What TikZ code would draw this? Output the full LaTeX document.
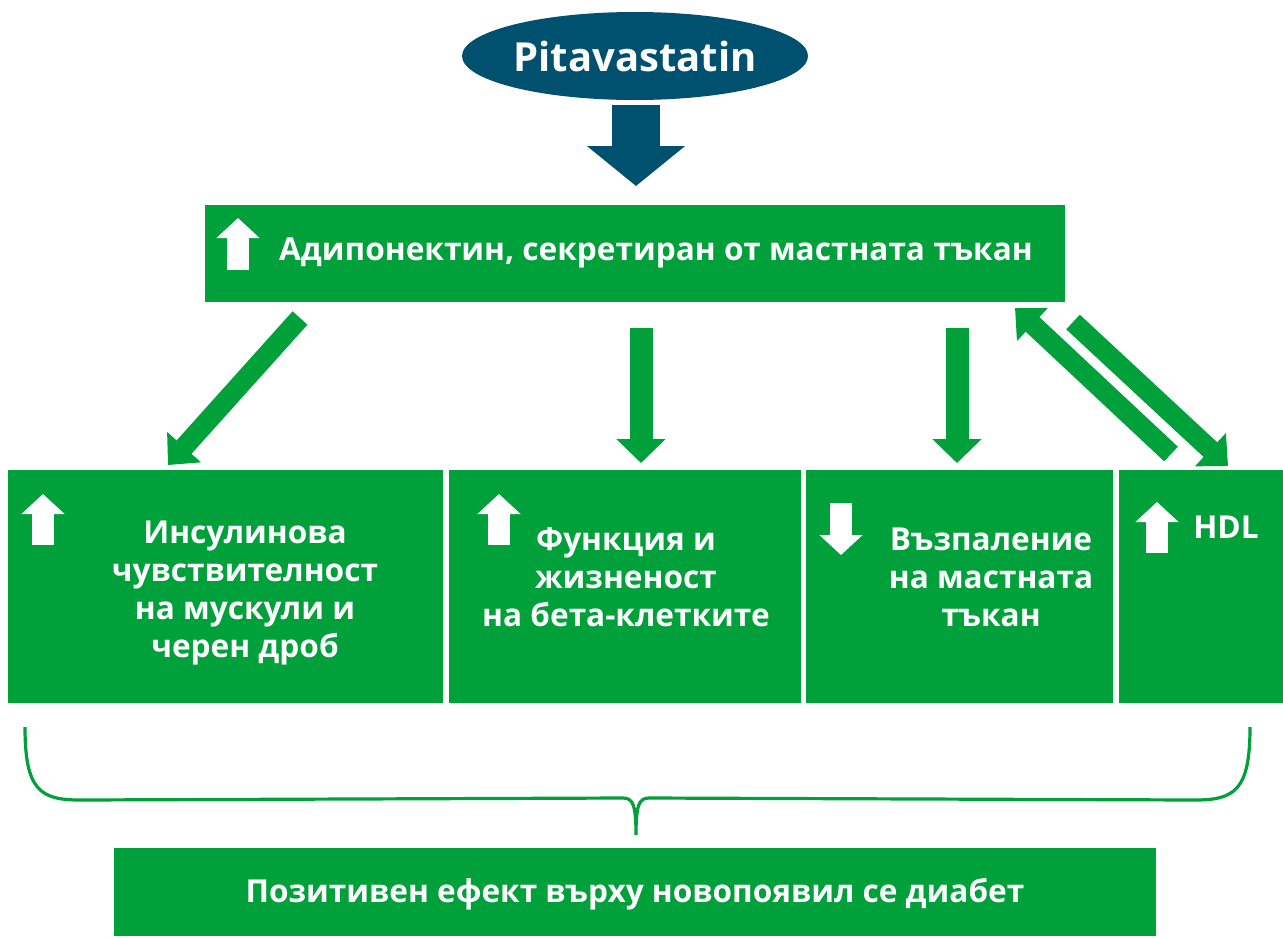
\documentclass[tikz,border=0pt]{standalone}
\usepackage{fontspec}
\setmainfont{Open Sans}
\usetikzlibrary{arrows.meta,shapes.geometric}
\definecolor{zelen}{RGB}{0,160,58}
\definecolor{sin}{RGB}{0,80,112}
\tikzset{
  tekst/.style={text=white, font=\bfseries\fontsize{15.8}{19}\selectfont, align=center, inner sep=0pt},
  strelka/.style={zelen, line width=10pt, -{Triangle[length=12pt,width=22pt]}},
  pravastrelka/.style={zelen, line width=11.5pt, -{Triangle[length=12pt,width=24pt]}},
  bqla/.style={white, line width=11pt, -{Triangle[length=10pt,width=21pt]}},
}
\begin{document}
\begin{tikzpicture}[x=0.5pt, y=-0.5pt]
            \useasboundingbox (0,0) rectangle (1283,937);

            \coordinate (1) at (636,105);
            \coordinate (2) at (636,186);
            \coordinate (3) at (300,318);
            \coordinate (4) at (168,465);
            \coordinate (5) at (641,328);
            \coordinate (6) at (641,463);
            \coordinate (7) at (957,328);
            \coordinate (8) at (957,463);
            \coordinate (9) at (1171,454);
            \coordinate (10) at (1015,308);
            \coordinate (11) at (1073,322);
            \coordinate (12) at (1228,466);

            \node[ellipse, fill=sin, minimum width=173pt, minimum height=44pt, inner sep=0pt,
                  text=white, font=\bfseries\fontsize{20}{24}\selectfont] (pita) at (635,56) {Pitavastatin};
            \draw[sin, line width=24pt, -{Triangle[length=20pt,width=48pt]}] (1) -- (2);

            \fill[zelen] (205,205) rectangle (1065,302);
            \path (656,253) node[tekst] (adipo) {Адипонектин, секретиран от мастната тъкан};
            \draw[bqla] (238,270) -- (238,218);

            \draw[strelka] (3) -- (4);
            \draw[pravastrelka] (5) -- (6);
            \draw[pravastrelka] (7) -- (8);
            \draw[strelka] (9) -- (10);
            \draw[strelka] (11) -- (12);

            \fill[zelen] (8,470) rectangle (443,703);
            \fill[zelen] (449,470) rectangle (801,703);
            \fill[zelen] (806,470) rectangle (1113,703);
            \fill[zelen] (1119,470) rectangle (1283,703);

            \path (245,593) node[tekst] (insulin) {Инсулинова\\чувствителност\\на мускули и\\черен дроб};
            \path (626,577) node[tekst] (beta) {Функция и\\жизненост\\на бета-клетките};
            \path (991,577) node[tekst] (vazp) {Възпаление\\на мастната\\тъкан};
            \path (1226,527) node[tekst] (hdl) {HDL};

            \draw[bqla] (43,545) -- (43,494);
            \draw[bqla] (499,545) -- (499,494);
            \draw[bqla] (841,503) -- (841,555);
            \draw[bqla] (1157,553) -- (1157,502);

            \draw[zelen, line width=1.6pt] (25,727) .. controls (25,790) and (40,800) .. (80,800) -- (623,798)
                .. controls (633,798) and (636,805) .. (636,835)
                .. controls (636,805) and (639,798) .. (649,798) -- (1195,800)
                .. controls (1235,800) and (1250,790) .. (1250,727);

            \fill[zelen] (114,848) rectangle (1156,936);
            \path (635,894) node[tekst] (efekt) {Позитивен ефект върху новопоявил се диабет};
        \end{tikzpicture}
\end{document}
